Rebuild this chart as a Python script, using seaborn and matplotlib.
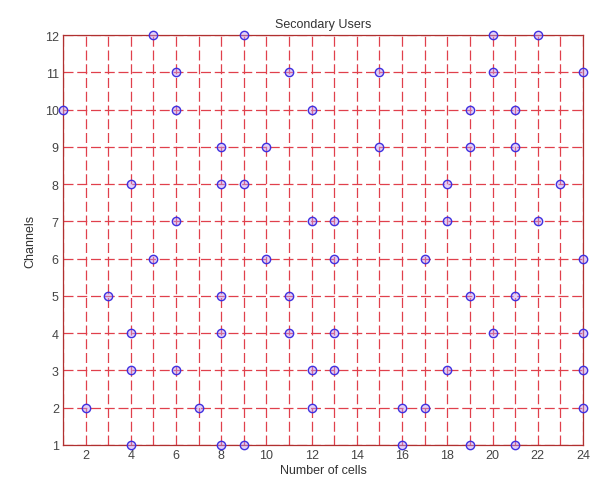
import numpy as np
import pandas as pd
import matplotlib
matplotlib.use('Agg')
import matplotlib.pyplot as plt
from matplotlib.ticker import MultipleLocator
import seaborn as sns

# ============================================================================
# DATA (secondary users: channel -> occupied cells)
# ============================================================================

CHANNELS = [12, 11, 10, 9, 8, 7, 6, 5, 4, 3, 2, 1]
CELLS = [
    [5, 9, 20, 22],
    [6, 11, 15, 20, 24],
    [1, 6, 12, 19, 21],
    [8, 10, 15, 19, 21],
    [4, 8, 9, 18, 23],
    [6, 12, 13, 18, 22],
    [5, 10, 13, 17, 24],
    [3, 8, 11, 19, 21],
    [4, 8, 11, 13, 20, 24],
    [4, 6, 12, 13, 18, 24],
    [2, 7, 12, 16, 17, 24],
    [4, 8, 9, 16, 19, 21],
]
X_TICKS = [2, 4, 6, 8, 10, 12, 14, 16, 18, 20, 22, 24]
Y_TICKS = [1, 2, 3, 4, 5, 6, 7, 8, 9, 10, 11, 12]

rows = []
for ch, cells in zip(CHANNELS, CELLS):
    for c in cells:
        rows.append({'cell': c, 'channel': ch})
df = pd.DataFrame(rows)

# ============================================================================
# PLOT
# ============================================================================

sns.set_style('white')
plt.rcParams['font.family'] = ['Liberation Sans', 'DejaVu Sans']

fig = plt.figure(figsize=(5.97, 4.89), dpi=100)
ax = fig.add_axes([0.1055, 0.088, 0.871, 0.838])

ax.xaxis.set_minor_locator(MultipleLocator(1))
ax.yaxis.set_minor_locator(MultipleLocator(1))
ax.grid(which='both', color='#e0404c', linestyle=(0, (8, 3)), linewidth=0.9)
ax.set_axisbelow(True)

sns.scatterplot(data=df, x='cell', y='channel', ax=ax, marker='o', s=36,
                facecolor=(0.75, 0.6, 0.95, 0.45), edgecolor='#4030e0',
                linewidth=1.0, zorder=3, clip_on=False, legend=False)

ax.set_xlim(1, 24)
ax.set_ylim(1, 12)
ax.set_xticks(X_TICKS)
ax.set_yticks(Y_TICKS)
ax.tick_params(which='major', direction='in', length=4, labelsize=9,
               colors='#333333', labelcolor='#444444', pad=3)
ax.tick_params(which='minor', length=0)
for sp in ax.spines.values():
    sp.set_color('#b03030')
    sp.set_linewidth(0.9)

ax.set_title('Secondary Users', fontsize=9, color='#333333', pad=6)
ax.set_xlabel('Number of cells', fontsize=9, color='#333333', labelpad=2)
ax.set_ylabel('Channels', fontsize=9, color='#333333', labelpad=6)

plt.savefig('out.png', dpi=100)
